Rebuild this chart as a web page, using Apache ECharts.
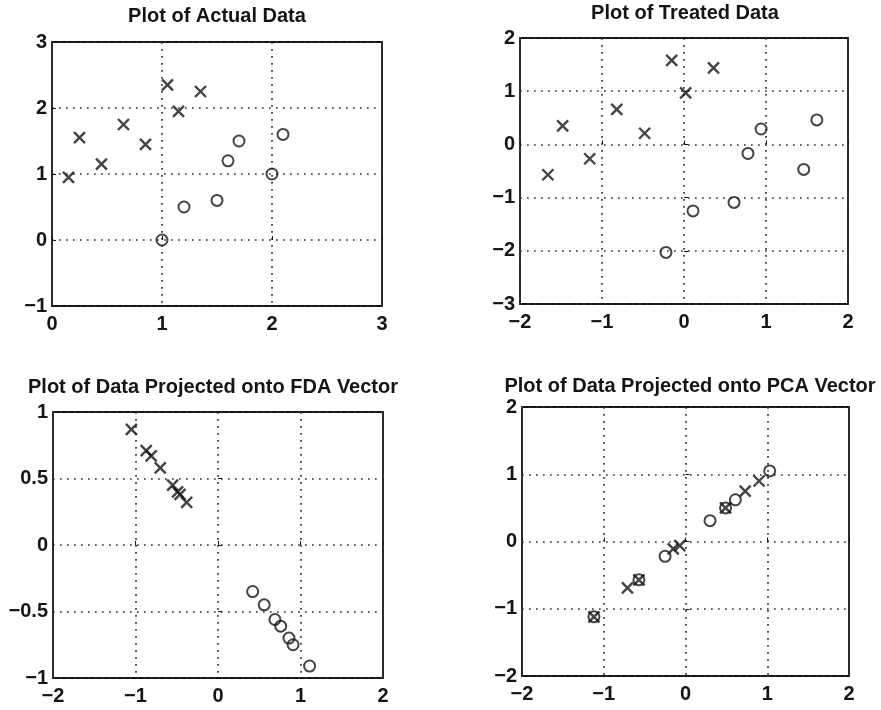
<!DOCTYPE html>
<html>
<head>
<meta charset="utf-8">
<script src="https://cdn.jsdelivr.net/npm/echarts@6/dist/echarts.min.js"></script>
<style>
    html, body { margin: 0; padding: 0; background: #fff; }
    #chart-container { width: 881px; height: 710px; }
</style>
</head>
<body>
<div id="chart-container"></div>
<script>
// Plot of Actual Data
var actualCrossX = [0.15, 0.25, 0.45, 0.65, 0.85, 1.05, 1.15, 1.35];
var actualCrossY = [0.95, 1.55, 1.15, 1.75, 1.45, 2.35, 1.95, 2.25];
var actualCircleX = [1.0, 1.2, 1.5, 1.6, 1.7, 2.0, 2.1];
var actualCircleY = [0.0, 0.5, 0.6, 1.2, 1.5, 1.0, 1.6];

// Plot of Treated Data
var treatedCrossX = [-1.66, -1.48, -1.15, -0.82, -0.48, -0.15, 0.02, 0.36];
var treatedCrossY = [-0.57, 0.35, -0.27, 0.66, 0.21, 1.58, 0.97, 1.44];
var treatedCircleX = [-0.22, 0.11, 0.61, 0.78, 0.94, 1.46, 1.62];
var treatedCircleY = [-2.03, -1.25, -1.09, -0.17, 0.29, -0.47, 0.46];

// Projected onto FDA vector
var fdaCrossX = [-1.05, -0.87, -0.81, -0.70, -0.55, -0.49, -0.46, -0.38];
var fdaCrossY = [0.87, 0.71, 0.67, 0.58, 0.45, 0.40, 0.38, 0.32];
var fdaCircleX = [0.42, 0.56, 0.69, 0.76, 0.86, 0.91, 1.11];
var fdaCircleY = [-0.35, -0.45, -0.56, -0.61, -0.70, -0.75, -0.91];

// Projected onto PCA vector
var pcaCrossX = [-1.12, -0.71, -0.57, -0.15, -0.07, 0.49, 0.73, 0.90];
var pcaCrossY = [-1.12, -0.69, -0.57, -0.11, -0.06, 0.50, 0.75, 0.90];
var pcaCircleX = [-1.12, -0.57, -0.25, 0.30, 0.49, 0.61, 1.03];
var pcaCircleY = [-1.12, -0.57, -0.22, 0.31, 0.50, 0.62, 1.05];

var titles = [
    'Plot of Actual Data',
    'Plot of Treated Data',
    'Plot of Data Projected onto FDA Vector',
    'Plot of Data Projected onto PCA Vector'
];

var panels = [
    { grid: { left: 52, top: 42, width: 330, height: 264 }, title: [217, 6],
      x: [0, 3, 1], y: [-1, 3, 1],
      cross: [actualCrossX, actualCrossY], circle: [actualCircleX, actualCircleY] },
    { grid: { left: 520, top: 38, width: 328, height: 266 }, title: [685, 3],
      x: [-2, 2, 1], y: [-3, 2, 1],
      cross: [treatedCrossX, treatedCrossY], circle: [treatedCircleX, treatedCircleY] },
    { grid: { left: 53, top: 412, width: 330, height: 266 }, title: [213, 377],
      x: [-2, 2, 1], y: [-1, 1, 0.5],
      cross: [fdaCrossX, fdaCrossY], circle: [fdaCircleX, fdaCircleY] },
    { grid: { left: 522, top: 407, width: 327, height: 269 }, title: [690, 376],
      x: [-2, 2, 1], y: [-2, 2, 1],
      cross: [pcaCrossX, pcaCrossY], circle: [pcaCircleX, pcaCircleY] }
];

var ink = '#151515';
var font = "'Liberation Sans', Arial, sans-serif";

function zip(xs, ys) {
    return xs.map(function (x, i) { return [x, ys[i]]; });
}

function fmt(v) {
    return String(v).replace('-', '\u2212');
}

var option = {
    backgroundColor: '#fff',
    animation: false,
    title: [],
    grid: [],
    xAxis: [],
    yAxis: [],
    series: []
};

panels.forEach(function (p, i) {
    option.title.push({
        text: titles[i],
        left: p.title[0],
        top: p.title[1],
        textAlign: 'center',
        padding: 0,
        textStyle: { fontFamily: font, fontSize: 20, fontWeight: 'bold', color: ink }
    });

    option.grid.push({
        left: p.grid.left, top: p.grid.top, width: p.grid.width, height: p.grid.height,
        show: true, borderColor: ink, borderWidth: 1.8, backgroundColor: 'transparent'
    });

    var label = { fontFamily: font, fontSize: 20, fontWeight: 'bold', color: ink, formatter: fmt };
    var dots = { color: '#333', width: 1.7, type: [1.7, 5.3] };

    // main axes with labels and dotted grid
    option.xAxis.push({
        type: 'value', gridIndex: i, min: p.x[0], max: p.x[1], interval: p.x[2],
        axisLine: { show: false },
        axisTick: { show: true, inside: true, length: 4, lineStyle: { color: ink } },
        axisLabel: Object.assign({ margin: 8 }, label),
        splitLine: { show: true, lineStyle: dots }
    });
    option.yAxis.push({
        type: 'value', gridIndex: i, min: p.y[0], max: p.y[1], interval: p.y[2],
        axisLine: { show: false },
        axisTick: { show: true, inside: true, length: 4, lineStyle: { color: ink } },
        axisLabel: Object.assign({ margin: 5 }, label),
        splitLine: { show: true, lineStyle: dots }
    });

    // cross marks
    option.series.push({
        type: 'scatter', xAxisIndex: i, yAxisIndex: i,
        data: zip(p.cross[0], p.cross[1]),
        symbol: 'path://M0,0L10,10M10,0L0,10',
        symbolSize: 11,
        itemStyle: { color: 'transparent', borderColor: ink, borderWidth: 2.4 },
        z: 3
    });
    // circle marks
    option.series.push({
        type: 'scatter', xAxisIndex: i, yAxisIndex: i,
        data: zip(p.circle[0], p.circle[1]),
        symbol: 'circle',
        symbolSize: 11,
        itemStyle: { color: 'transparent', borderColor: ink, borderWidth: 2 },
        z: 3
    });
});

var chart = echarts.init(document.getElementById('chart-container'), null, { renderer: 'canvas' });
chart.setOption(option);
</script>
</body>
</html>
